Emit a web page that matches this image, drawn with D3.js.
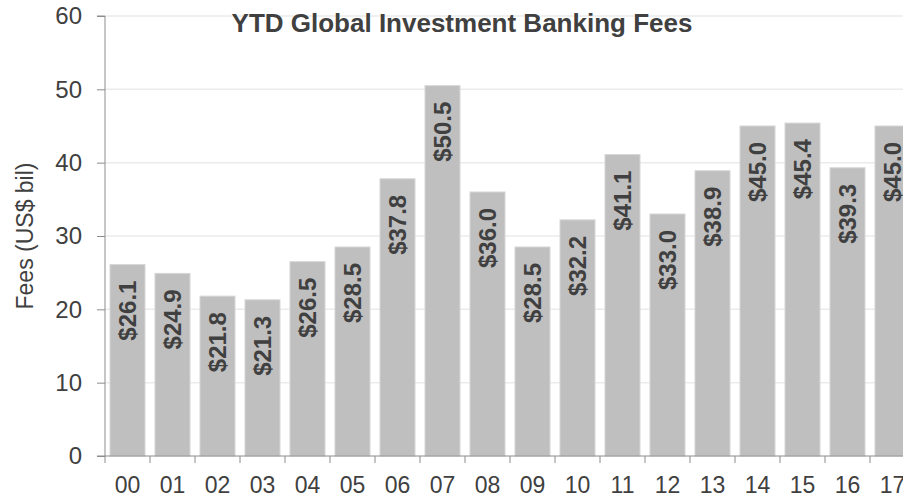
<!DOCTYPE html>
<html>
<head>
<meta charset="utf-8">
<script src="https://cdn.jsdelivr.net/npm/d3@7"></script>
<style>
  html, body { margin: 0; padding: 0; background: #fff; }
  svg { display: block; font-family: "Liberation Sans", Arial, sans-serif; }
</style>
</head>
<body>
<div id="chart"></div>
<script>
const categories = ["00","01","02","03","04","05","06","07","08","09","10","11","12","13","14","15","16","17"];
const fees = [26.1, 24.9, 21.8, 21.3, 26.5, 28.5, 37.8, 50.5, 36.0, 28.5, 32.2, 41.1, 33.0, 38.9, 45.0, 45.4, 39.3, 45.0];
const yTicks = [0, 10, 20, 30, 40, 50, 60];
const chartTitle = "YTD Global Investment Banking Fees";
const yTitle = "Fees (US$ bil)";

const W = 903, H = 497;
const mLeft = 105, mTop = 16, mBottom = 456, step = 45;
const mRight = mLeft + step * categories.length;

const svg = d3.select("#chart").append("svg").attr("width", W).attr("height", H);

const x = d3.scaleBand().domain(categories).range([mLeft, mRight])
  .paddingInner(10 / 45).paddingOuter(5 / 45);
const y = d3.scaleLinear().domain([0, 60]).range([mBottom, mTop]);

// gridlines
svg.append("g").selectAll("line").data(yTicks.filter(d => d > 0)).join("line")
  .attr("x1", mLeft).attr("x2", W).attr("y1", d => y(d)).attr("y2", d => y(d))
  .attr("stroke", "#ebebeb").attr("stroke-width", 1.5);

// bars
svg.append("g").selectAll("rect").data(fees).join("rect")
  .attr("x", (d, i) => x(categories[i]))
  .attr("y", d => y(d))
  .attr("width", x.bandwidth())
  .attr("height", d => mBottom - y(d))
  .attr("fill", "#bfbfbf")
  .attr("stroke", "#d6d6d6").attr("stroke-width", 1);

// y axis
const yAxis = d3.axisLeft(y).tickValues(yTicks).tickSize(8).tickPadding(15).tickFormat(d3.format("d"));
const gy = svg.append("g").attr("transform", `translate(${mLeft},0)`).call(yAxis);
gy.select(".domain").attr("stroke", "#8c8c8c").attr("d", `M-8,${mTop}H0V${mBottom}H-8`);
gy.selectAll(".tick line").attr("stroke", "#8c8c8c");
gy.selectAll("text").attr("fill", "#404040").style("font-size", "24px")
  .style("font-family", "'Liberation Sans', Arial, sans-serif");

// x axis line
svg.append("line").attr("x1", mLeft).attr("x2", W).attr("y1", mBottom).attr("y2", mBottom)
  .attr("stroke", "#8c8c8c").attr("stroke-width", 1);
// x boundary ticks
const boundaries = d3.range(categories.length + 1).map(i => mLeft + i * x.step());
svg.append("g").selectAll("line").data(boundaries).join("line")
  .attr("x1", d => d).attr("x2", d => d).attr("y1", mBottom).attr("y2", mBottom + 7)
  .attr("stroke", "#8c8c8c");
// x labels
const xAxis = d3.axisBottom(x).tickSize(0).tickPadding(21);
const gx = svg.append("g").attr("transform", `translate(0,${mBottom})`).call(xAxis);
gx.select(".domain").remove();
gx.selectAll("text").attr("fill", "#404040").style("font-size", "23px")
  .style("font-family", "'Liberation Sans', Arial, sans-serif");

// value labels
svg.append("g").selectAll("text").data(fees).join("text")
  .attr("transform", (d, i) => `translate(${x(categories[i]) + x.bandwidth() / 2 + 8.5},${y(d) + 16}) rotate(-90)`)
  .attr("text-anchor", "end")
  .attr("fill", "#404040")
  .style("font-size", "24px").style("font-weight", "bold")
  .text(d => "$" + d.toFixed(1));

// title
svg.append("text").attr("x", 462).attr("y", 32).attr("text-anchor", "middle")
  .attr("fill", "#404040").style("font-size", "26px").style("font-weight", "bold")
  .text(chartTitle);

// y title
svg.append("text").attr("transform", `translate(33,${(mTop + mBottom) / 2}) rotate(-90)`)
  .attr("text-anchor", "middle").attr("fill", "#404040").style("font-size", "23px")
  .text(yTitle);
</script>
</body>
</html>
